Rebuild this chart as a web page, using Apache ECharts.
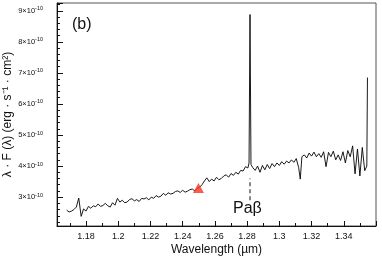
<!DOCTYPE html>
<html>
<head>
<meta charset="utf-8">
<script src="https://cdn.jsdelivr.net/npm/echarts@6/dist/echarts.min.js"></script>
<style>html,body{margin:0;padding:0;background:#fff;}#c{width:382px;height:268px;}</style>
</head>
<body>
<div id="c"></div>
<script>
// wavelength in µm
var wavelengths = [1.1680,1.1695,1.1710,1.1725,1.1740,1.1755,1.1770,1.1785,1.1800,1.1815,1.1830,1.1845,1.1860,1.1875,1.1890,1.1905,1.1920,1.1935,1.1950,1.1965,1.1980,1.1995,1.2010,1.2025,1.2040,1.2055,1.2070,1.2085,1.2100,1.2115,1.2130,1.2145,1.2160,1.2175,1.2190,1.2205,1.2220,1.2235,1.2250,1.2265,1.2280,1.2295,1.2310,1.2325,1.2340,1.2355,1.2370,1.2385,1.2400,1.2415,1.2430,1.2445,1.2460,1.2475,1.2490,1.2505,1.2520,1.2535,1.2550,1.2565,1.2580,1.2595,1.2610,1.2625,1.2640,1.2655,1.2670,1.2685,1.2700,1.2715,1.2730,1.2745,1.2760,1.2775,1.2790,1.2805,1.2812,1.2818,1.2824,1.2835,1.2850,1.2865,1.2880,1.2895,1.2910,1.2925,1.2940,1.2955,1.2970,1.2985,1.3000,1.3015,1.3030,1.3045,1.3060,1.3075,1.3090,1.3105,1.3120,1.3130,1.3140,1.3155,1.3170,1.3185,1.3200,1.3215,1.3230,1.3245,1.3260,1.3275,1.3290,1.3305,1.3320,1.3335,1.3350,1.3365,1.3380,1.3395,1.3410,1.3425,1.3440,1.3455,1.3470,1.3485,1.3500,1.3515,1.3530,1.3543,1.3547];
// λ·F(λ) in units of 1e-10 erg s^-1 cm^-2
var flux = [2.58,2.52,2.55,2.60,2.68,2.97,2.38,2.62,2.55,2.70,2.64,2.72,2.69,2.78,2.70,2.73,2.80,2.72,2.68,2.82,2.74,2.96,2.84,2.90,2.82,2.84,2.92,2.95,2.88,2.92,2.86,2.96,2.94,2.98,2.91,3.00,2.96,3.05,3.00,3.03,3.12,3.06,3.14,3.10,3.12,3.18,3.20,3.15,3.22,3.16,3.19,3.24,3.26,3.20,3.28,3.32,3.40,3.52,3.62,3.50,3.58,3.52,3.64,3.56,3.60,3.68,3.72,3.64,3.76,3.70,3.80,3.74,3.86,3.84,3.98,3.94,4.10,8.88,4.05,3.95,3.86,4.00,3.80,4.02,3.88,4.05,3.92,4.08,3.98,4.10,4.02,4.14,4.06,4.16,4.10,4.20,4.12,4.24,3.95,3.58,4.30,4.36,4.26,4.42,4.32,4.45,4.30,4.40,4.28,4.46,3.98,4.44,4.30,4.48,4.20,4.36,4.18,4.46,4.10,4.50,4.30,4.65,3.75,4.55,3.68,4.60,3.85,4.00,6.85];
var yTicks = [3,4,5,6,7,8,9];
var markerPoint = [1.2498, 3.29];
var lineLabel = 'Paβ';
var lineWave = 1.2818;
var lineFlux = [2.9, 3.6];

var spectrum = wavelengths.map(function (w, i) { return [w, flux[i]]; });
var font = '"Liberation Sans", Arial, sans-serif';
var chart = echarts.init(document.getElementById('c'), null, {renderer: 'canvas'});
chart.setOption({
  animation: false,
  grid: {left: 57, top: 3, right: 6, bottom: 42, containLabel: false, outerBoundsMode: 'none',
         show: true, borderColor: '#555', borderWidth: 1},
  xAxis: {
    type: 'value', min: 1.162, max: 1.36, splitNumber: 10,
    name: 'Wavelength (µm)', nameLocation: 'middle', nameGap: 18, nameMoveOverlap: false,
    nameTextStyle: {fontFamily: font, fontSize: 12, color: '#111'},
    axisLine: {show: true, lineStyle: {color: '#111', width: 1}},
    axisTick: {show: true, inside: true, length: 5, lineStyle: {color: '#111'}},
    minorTick: {show: true, splitNumber: 2, length: 3, lineStyle: {color: '#111'}},
    axisLabel: {showMinLabel: false, showMaxLabel: false, fontFamily: font, fontSize: 9, color: '#111', margin: 6},
    splitLine: {show: false}
  },
  yAxis: {
    type: 'value', min: 2.07, max: 9.25, splitNumber: 7,
    name: 'λ · F (λ) (erg · s⁻¹ · cm²)', nameLocation: 'middle', nameGap: 43, nameMoveOverlap: false,
    nameTextStyle: {fontFamily: font, fontSize: 12, color: '#111'},
    axisLine: {show: true, lineStyle: {color: '#111', width: 1}},
    axisTick: {show: true, inside: true, length: 6, lineStyle: {color: '#111'}},
    minorTick: {show: true, splitNumber: 5, length: 3, lineStyle: {color: '#111'}},
    axisLabel: {
      showMinLabel: false, showMaxLabel: false, margin: 14, color: '#111',
      formatter: function (v) {
        if (yTicks.indexOf(Math.round(v * 1000) / 1000) < 0) return '';
        return '{a|' + v + '×10}{b|-10}';
      },
      rich: {
        a: {fontFamily: font, fontSize: 7.5, color: '#111', lineHeight: 10},
        b: {fontFamily: font, fontSize: 5.5, color: '#111', lineHeight: 6, verticalAlign: 'top'}
      }
    },
    splitLine: {show: false}
  },
  series: [
    {type: 'line', data: spectrum, showSymbol: false, symbol: 'none',
     lineStyle: {color: '#000', width: 0.9}, z: 3},
    {type: 'line', data: [[lineWave, lineFlux[0]], [lineWave, lineFlux[1]]], symbol: 'none',
     lineStyle: {color: '#111', width: 1, type: [4, 3]}, z: 2},
    {type: 'scatter', data: [markerPoint], symbol: 'triangle', symbolSize: [11, 10],
     itemStyle: {color: '#f5331f'}, z: 4}
  ],
  graphic: [
    {type: 'text', left: 72, top: 17, style: {text: '(b)', font: '16px ' + font, fill: '#111'}},
    {type: 'text', left: 233, top: 201, style: {text: lineLabel, font: '16px ' + font, fill: '#111'}}
  ]
});
</script>
</body>
</html>
